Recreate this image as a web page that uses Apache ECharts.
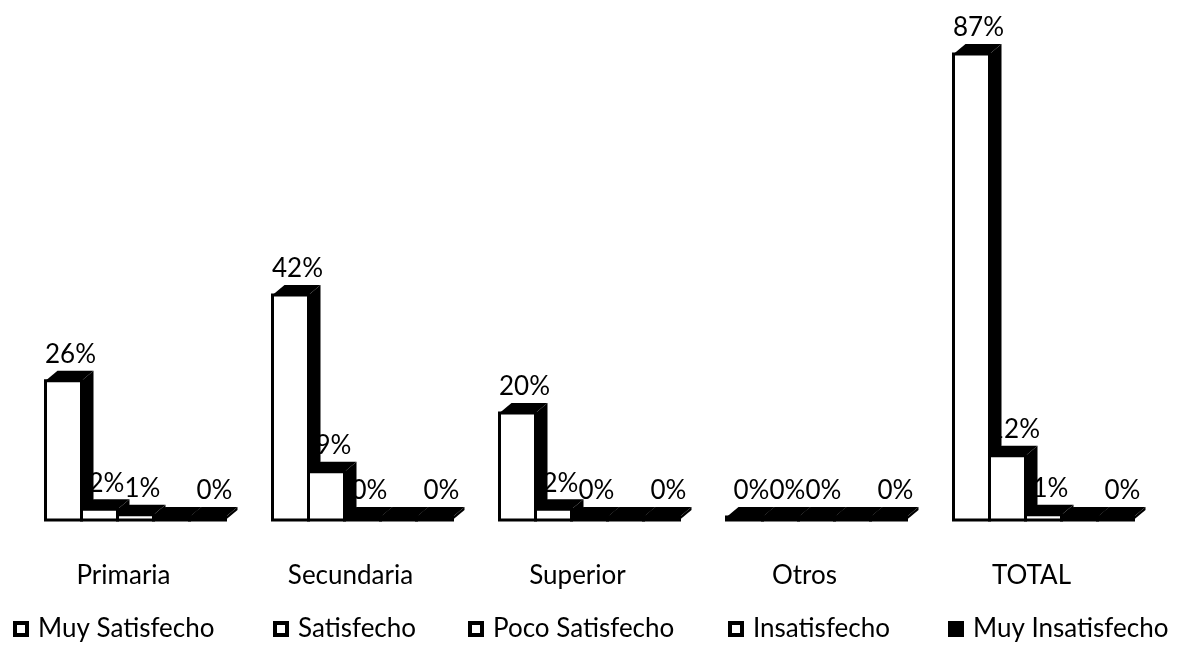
<!DOCTYPE html>
<html>
<head>
<meta charset="utf-8">
<script src="https://cdn.jsdelivr.net/npm/echarts@6/dist/echarts.min.js"></script>
<style>
  html, body { margin: 0; padding: 0; background: #fff; }
  #main { width: 1195px; height: 647px; }
</style>
</head>
<body>
<div id="main"></div>
<script>
var categorias = ['Primaria', 'Secundaria', 'Superior', 'Otros', 'TOTAL'];
var nombres = ['Muy Satisfecho', 'Satisfecho', 'Poco Satisfecho', 'Insatisfecho', 'Muy Insatisfecho'];
var muySatisfecho = [26, 42, 20, 0, 87];
var satisfecho = [2, 9, 2, 0, 12];
var pocoSatisfecho = [1, 0, 0, 0, 1];
var insatisfecho = [0, 0, 0, 0, 0];
var muyInsatisfecho = [0, 0, 0, 0, 0];
var valores = [muySatisfecho, satisfecho, pocoSatisfecho, insatisfecho, muyInsatisfecho];

// estilo
var leyendaX = [13, 273, 468, 728, 948];
var fuente = 'Lato';
var anchoBarra = 36;
var desplaz = 12;        // el grupo 3D va corrido a la derecha
var profX = 12, profY = 10;

var myChart = echarts.init(document.getElementById('main'));

function barra3d(params, api) {
  var si = params.seriesIndex;
  var idx = api.value(0);
  var v = api.value(1);
  var base = api.coord([idx, 0]);
  var tope = api.coord([idx, v]);
  var x = base[0] - anchoBarra * nombres.length / 2 + desplaz + si * anchoBarra;
  var yb = base[1];
  var yt = Math.min(tope[1], yb - 3);
  var w = anchoBarra;
  var hijos = [
    {
      type: 'polygon',
      shape: { points: [[x, yt], [x + profX, yt - profY], [x + w + profX, yt - profY], [x + w, yt]] },
      style: { fill: '#000' }
    },
    {
      type: 'polygon',
      shape: { points: [[x + w, yt], [x + w + profX, yt - profY], [x + w + profX, yb - profY], [x + w, yb]] },
      style: { fill: '#000' }
    },
    {
      type: 'rect',
      shape: { x: x, y: yt, width: w, height: yb - yt },
      style: { fill: si === 4 ? '#000' : '#fff', stroke: '#000', lineWidth: 3 }
    }
  ];
  // la etiqueta de Insatisfecho queda tapada en el original
  if (si !== 3) {
    hijos.push({
      type: 'text',
      style: {
        text: v + '%',
        x: x + w / 2 + 7,
        y: yt - profY - 3,
        align: 'center',
        verticalAlign: 'bottom',
        fontFamily: fuente,
        fontSize: 26,
        fill: '#000'
      }
    });
  }
  return { type: 'group', children: hijos };
}

var series = valores.map(function (vals, i) {
  return {
    name: nombres[i],
    type: 'custom',
    renderItem: barra3d,
    data: vals.map(function (v, j) { return [j, v]; }),
    encode: { x: 0, y: 1 },
    itemStyle: { color: i === 4 ? '#000' : '#fff' },
    silent: true
  };
});

var leyendas = nombres.map(function (n, i) {
  return {
    data: [n],
    left: leyendaX[i] - 5,
    top: 611,
    icon: 'rect',
    itemWidth: 12,
    itemHeight: 12,
    itemStyle: {
      color: i === 4 ? '#000' : '#fff',
      borderColor: '#000',
      borderWidth: 4
    },
    textStyle: {
      fontFamily: fuente,
      fontSize: 26,
      color: '#000',
      padding: [0, 0, 0, 6]
    },
    selectedMode: false
  };
});

var option = {
  animation: false,
  backgroundColor: '#fff',
  grid: { left: 10, right: 50, top: 38, bottom: 127 },
  legend: leyendas,
  xAxis: {
    type: 'category',
    data: categorias,
    axisLine: { show: false },
    axisTick: { show: false },
    axisLabel: {
      margin: 43,
      fontFamily: fuente,
      fontSize: 26,
      color: '#000'
    }
  },
  yAxis: {
    type: 'value',
    min: 0,
    max: 90,
    show: false,
    splitLine: { show: false }
  },
  series: series
};

myChart.setOption(option);
</script>
</body>
</html>
